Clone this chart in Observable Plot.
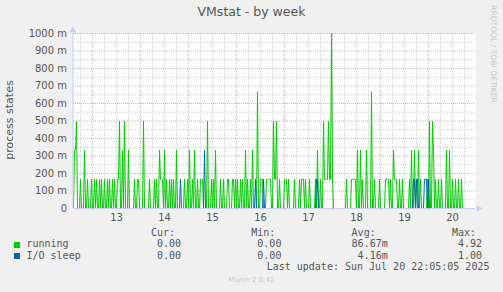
<!DOCTYPE html>
<html><head><meta charset="utf-8">
<script src="https://cdn.jsdelivr.net/npm/d3@7"></script>
<script src="https://cdn.jsdelivr.net/npm/@observablehq/plot@0.6"></script>
<style>
body{margin:0;background:#F0F0F0;}
#wrap{position:relative;width:503px;height:292px;overflow:hidden;font-family:"DejaVu Sans",sans-serif;color:#555;}
.t{position:absolute;white-space:pre;line-height:1;}
.mono{font-family:"DejaVu Sans Mono",monospace;font-size:10px;}
.sq{position:absolute;width:6px;height:6px;}
#wrap svg{position:absolute;left:0;top:0;}
</style></head><body><div id="wrap"></div>
<script>
// ---- data (30-minute samples, first sample 2025-07-12 14:30 UTC) ----
const startTime = Date.UTC(2025, 6, 12, 14, 30);
const stepMinutes = 30;
// values in milli-units (m)
const running = [
  0,333,333,500,0,0,0,167,0,0,
  0,333,0,0,167,0,0,0,167,0,
  0,167,0,167,0,0,167,0,167,0,
  0,167,0,0,167,0,167,0,0,167,
  0,167,0,0,167,167,500,0,0,333,
  0,500,0,0,0,333,0,0,0,0,
  0,167,0,0,167,167,0,0,0,0,
  500,0,0,0,0,0,167,0,0,0,
  0,167,0,167,0,0,333,167,167,167,
  0,333,0,167,0,0,167,0,167,0,
  167,0,0,333,0,0,0,0,0,0,
  0,167,0,0,167,0,333,0,0,167,
  0,333,0,0,167,0,0,167,167,167,
  0,0,0,0,500,0,0,0,167,0,
  167,0,333,0,0,0,0,167,0,0,
  167,0,0,0,167,167,0,0,0,167,
  167,0,167,0,167,0,0,167,0,167,
  0,0,333,0,167,0,0,167,0,333,
  0,0,0,0,667,0,0,167,167,167,
  0,0,0,167,167,167,167,167,0,0,
  500,167,167,500,0,0,167,0,0,0,
  0,167,167,167,0,167,0,0,0,0,
  0,167,0,0,0,0,167,0,167,167,
  167,0,167,0,0,0,167,0,0,0,
  0,0,167,0,333,0,0,167,0,0,
  500,167,167,167,167,500,167,167,1000,167,
  0,0,0,0,0,0,0,0,0,0,
  0,0,0,167,0,0,0,0,167,167,
  167,167,167,0,333,0,0,333,0,167,
  0,0,0,333,0,0,0,0,667,0,
  0,167,0,0,0,0,167,0,0,0,
  0,0,167,167,167,167,0,167,0,0,
  333,167,167,167,0,0,167,0,0,167,
  0,0,0,0,0,0,167,0,333,0,
  0,333,0,167,0,333,0,167,0,0,
  0,0,0,0,167,0,500,0,0,500,
  333,0,167,0,0,167,0,0,167,0,
  0,0,0,333,0,0,333,0,0,167,
  0,0,167,0,0,167,0,0,167,0,
  0
];
const ioSleep = [
  0,0,0,0,0,0,0,0,0,0,
  0,0,0,0,0,0,0,0,0,0,
  0,0,0,0,0,0,0,0,0,0,
  0,0,0,0,0,0,0,0,0,0,
  0,0,0,0,0,0,0,0,0,0,
  0,0,0,0,0,0,0,0,0,0,
  0,0,0,0,0,0,0,0,0,0,
  0,0,0,0,0,0,0,0,0,0,
  0,0,0,0,0,0,0,0,0,0,
  0,0,0,0,0,0,0,0,0,0,
  0,0,0,0,0,0,0,167,0,0,
  0,0,0,0,0,0,0,0,0,0,
  0,0,0,0,0,0,0,0,0,0,
  0,333,0,0,0,0,0,0,0,0,
  0,0,0,0,0,0,0,0,0,0,
  0,0,0,0,0,0,0,0,0,0,
  0,0,0,0,0,0,0,0,0,0,
  0,0,0,0,0,0,0,0,0,0,
  0,0,167,0,0,0,0,0,0,0,
  167,0,0,0,0,0,0,0,0,0,
  0,0,0,0,0,0,0,0,0,0,
  0,0,0,0,0,0,0,0,0,0,
  0,0,0,0,0,0,0,0,0,0,
  0,0,0,0,0,0,0,0,0,0,
  0,0,0,167,167,0,0,0,0,0,
  0,0,0,0,0,0,0,0,0,0,
  0,0,0,0,0,0,0,0,0,0,
  0,0,0,0,0,0,0,0,0,0,
  0,0,0,0,0,0,0,0,0,0,
  0,0,0,0,0,0,0,0,0,0,
  0,0,0,0,0,0,0,0,0,0,
  0,0,0,0,0,0,0,0,0,0,
  0,0,0,0,0,0,0,0,0,0,
  0,0,0,0,0,0,0,0,0,0,
  167,167,0,167,167,0,0,0,0,0,
  0,167,167,167,0,167,0,0,0,0,
  0,0,0,0,0,0,0,0,0,0,
  0,0,0,0,0,0,0,0,0,0,
  0,0,0,0,0,0,0,0,0,0,
  0
];
const seriesNames = ["running", "I/O sleep"];
const seriesColors = ["#00CC00", "#0066B3"];
const statHeaders = ["Cur:", "Min:", "Avg:", "Max:"];
const runningStats = ["0.00", "0.00", "86.67m", "4.92"];
const ioSleepStats = ["0.00", "0.00", "4.16m", "1.00"];
const yTicks = [0, 100, 200, 300, 400, 500, 600, 700, 800, 900, 1000];
const yMinor = [50, 150, 250, 350, 450, 550, 650, 750, 850, 950];
const dayLabels = [13, 14, 15, 16, 17, 18, 19, 20];
const titleText = "VMstat - by week";
const yLabel = "process states";
const lastUpdate = "Last update: Sun Jul 20 22:05:05 2025";
const footer = "Munin 2.0.42";
const watermark = "RRDTOOL / TOBI OETIKER";

// ---- build ----
const stepMs = stepMinutes * 60000;
const t0 = new Date(startTime);
const t1 = new Date(startTime + 402 * stepMs);
const runData = running.map((v, i) => ({t: new Date(startTime + i * stepMs), v}));
const ioData = ioSleep.map((v, i) => ({t: new Date(startTime + i * stepMs), v}));
const dayNoons = dayLabels.map(d => new Date(Date.UTC(2025, 6, d, 12)));
const midnights = d3.utcDay.range(t0, t1);
const sixHours = d3.utcHour.every(6).range(t0, t1).filter(d => d.getUTCHours() !== 0);
const axisColor = "#C6CEF6";
const majorGrid = "#EDA8A8";
const minorGrid = "#CFCFCF";

const plot = Plot.plot({
  width: 503, height: 292,
  marginLeft: 73, marginRight: 28, marginTop: 33, marginBottom: 84,
  style: {background: "transparent", color: "#555", fontFamily: "'DejaVu Sans', sans-serif", fontSize: "10px"},
  x: {type: "utc", domain: [t0, t1]},
  y: {domain: [0, 1000]},
  marks: [
    Plot.frame({fill: "white", stroke: "none"}),
    Plot.ruleX(sixHours, {stroke: minorGrid, strokeDasharray: "1,1"}),
    Plot.ruleY(yMinor, {stroke: minorGrid, strokeDasharray: "1,1"}),
    Plot.ruleX(midnights, {stroke: majorGrid, strokeDasharray: "1,1"}),
    Plot.ruleY(yTicks.filter(d => d > 0), {stroke: majorGrid, strokeDasharray: "1,1"}),
    Plot.line(runData, {x: "t", y: "v", stroke: seriesColors[0], strokeWidth: 1}),
    Plot.line(ioData, {x: "t", y: "v", stroke: seriesColors[1], strokeWidth: 1}),
    Plot.ruleY([0], {stroke: axisColor}),
    Plot.ruleX([t0], {stroke: axisColor, dx: -0.5}),
    Plot.dot([{t: t1, v: 0}], {x: "t", y: "v", symbol: "triangle", r: 2.6, fill: axisColor, rotate: 90, dx: 3}),
    Plot.dot([{t: t0, v: 1000}], {x: "t", y: "v", symbol: "triangle", r: 2.6, fill: axisColor, dx: -0.5, dy: -3}),
    Plot.axisX(midnights, {tickSize: 2, tickFormat: () => "", stroke: majorGrid, label: null}),
    Plot.axisX(dayNoons, {tickSize: 0, tickPadding: 5.5, tickFormat: d => String(d.getUTCDate()), label: null}),
    Plot.axisY(yTicks, {tickSize: 0, tickPadding: 6.5, tickFormat: d => d === 0 ? "0" : d + " m", label: null})
  ]
});

const wrap = document.getElementById("wrap");
wrap.appendChild(plot);

function addText(txt, cls, css) {
  const el = document.createElement("div");
  el.className = "t " + (cls || "");
  el.textContent = txt;
  Object.assign(el.style, css);
  wrap.appendChild(el);
  return el;
}
// title
addText(titleText, "", {left: "0px", top: "6.4px", width: "503px", textAlign: "center", fontSize: "12.5px"});
// y label
addText(yLabel, "", {left: "9px", top: "120px", fontSize: "11px", transform: "translate(-50%,-50%) rotate(-90deg)"});
// watermark
addText(watermark, "", {left: "492.6px", top: "54px", fontSize: "7.6px", color: "#C8C8C8", transform: "translate(-50%,-50%) rotate(90deg)"});

// legend
const colLeft = [151, 251.3, 351.6, 452];
const rowTop = [227.8, 239.2, 250.5, 262.2];
const fmt = s => s.endsWith("m") ? s.padStart(6) : s.padStart(5) + " ";
statHeaders.forEach((h, j) => addText(h, "mono", {left: colLeft[j] + "px", top: rowTop[0] + "px"}));
[runningStats, ioSleepStats].forEach((stats, r) => {
  const sq = document.createElement("div");
  sq.className = "sq";
  Object.assign(sq.style, {left: "14px", top: (rowTop[r + 1] + 2.5) + "px", background: seriesColors[r]});
  wrap.appendChild(sq);
  addText(seriesNames[r], "mono", {left: "26.5px", top: rowTop[r + 1] + "px"});
  stats.forEach((s, j) => addText(fmt(s), "mono", {left: colLeft[j] + "px", top: rowTop[r + 1] + "px"}));
});
addText(lastUpdate, "mono", {left: "266.7px", top: rowTop[3] + "px"});
addText(footer, "", {left: "0px", width: "503px", textAlign: "center", top: "277.4px", fontSize: "7px", color: "#C8C8C8"});
</script>
</body></html>
